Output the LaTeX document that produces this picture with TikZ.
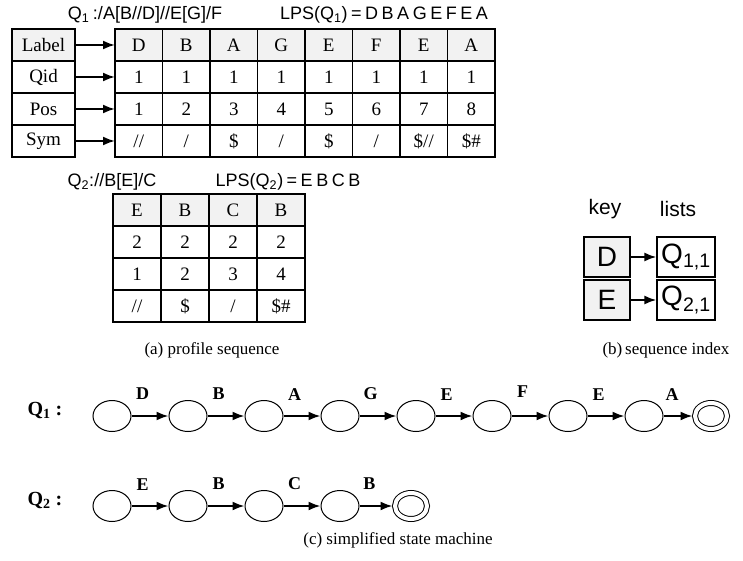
\documentclass[tikz,border=0pt]{standalone}
\usepackage{fontspec}
\setmainfont{Liberation Serif}
\newfontfamily\titlefont[WordSpace=0.7]{Liberation Sans}
\usetikzlibrary{shapes.geometric,arrows.meta,positioning}
\definecolor{headgray}{gray}{0.95}
\tikzset{>={Latex[length=12pt,width=9pt]}, node distance=0pt}
\tikzstyle{cell} = [draw, line width=1.5pt, rectangle, minimum width=47.5pt, minimum height=32pt, inner sep=0pt, outer sep=0pt, font=\fontsize{19}{19}\selectfont]
\tikzstyle{head} = [cell, fill=headgray]
\tikzstyle{field} = [cell, minimum width=63pt]
\tikzstyle{qcell} = [cell, minimum width=48pt]
\tikzstyle{qhead} = [qcell, fill=headgray]
\tikzstyle{title} = [font=\titlefont\fontsize{18}{18}\selectfont, inner sep=0pt]
\tikzstyle{keybox} = [draw, line width=1.2pt, fill=headgray, minimum width=46pt, minimum height=40pt, inner sep=0pt, font=\titlefont\fontsize{28}{28}\selectfont]
\tikzstyle{listbox} = [keybox, fill=white, minimum width=58pt]
\tikzstyle{state} = [draw, ellipse, line width=1pt, minimum width=38pt, minimum height=31pt, inner sep=0pt]
\tikzstyle{final} = [state, double, double distance=4pt, minimum width=32pt, minimum height=26pt, outer sep=2.5pt]
\tikzstyle{link} = [->, line width=2pt]
\tikzstyle{sym} = [font=\bfseries\fontsize{18}{18}\selectfont, above=13pt, pos=0.3, inner sep=2pt]
\tikzstyle{caption} = [font=\fontsize{17}{17}\selectfont]
\tikzstyle{qname} = [font=\bfseries\fontsize{20}{20}\selectfont]

\begin{document}
\begin{tikzpicture}[x=1pt, y=-1pt]
	\useasboundingbox (0,0) rectangle (743,561);

	% (a) profile sequence of Q1
	\node [title] (q1_path) at (145,15) {Q\textsubscript{1} :/A[B//D]//E[G]/F};
	\node [title] (q1_lps) at (384,15) {LPS(Q\textsubscript{1}) = D B A G E F E A};

	\node [field, fill=headgray] (f_label) at (43.5,45) {Label};
	\node [field, below=of f_label] (f_qid) {Qid};
	\node [field, below=of f_qid] (f_pos) {Pos};
	\node [field, below=of f_pos] (f_sym) {Sym};

	\node [head, right=40pt of f_label] (lbl1) {D};
	\node [head, right=of lbl1] (lbl2) {B};
	\node [head, right=of lbl2] (lbl3) {A};
	\node [head, right=of lbl3] (lbl4) {G};
	\node [head, right=of lbl4] (lbl5) {E};
	\node [head, right=of lbl5] (lbl6) {F};
	\node [head, right=of lbl6] (lbl7) {E};
	\node [head, right=of lbl7] (lbl8) {A};

	\node [cell, below=of lbl1] (qid1) {1};
	\node [cell, right=of qid1] (qid2) {1};
	\node [cell, right=of qid2] (qid3) {1};
	\node [cell, right=of qid3] (qid4) {1};
	\node [cell, right=of qid4] (qid5) {1};
	\node [cell, right=of qid5] (qid6) {1};
	\node [cell, right=of qid6] (qid7) {1};
	\node [cell, right=of qid7] (qid8) {1};

	\node [cell, below=of qid1] (pos1) {1};
	\node [cell, right=of pos1] (pos2) {2};
	\node [cell, right=of pos2] (pos3) {3};
	\node [cell, right=of pos3] (pos4) {4};
	\node [cell, right=of pos4] (pos5) {5};
	\node [cell, right=of pos5] (pos6) {6};
	\node [cell, right=of pos6] (pos7) {7};
	\node [cell, right=of pos7] (pos8) {8};

	\node [cell, below=of pos1] (sym1) {//};
	\node [cell, right=of sym1] (sym2) {/};
	\node [cell, right=of sym2] (sym3) {\$};
	\node [cell, right=of sym3] (sym4) {/};
	\node [cell, right=of sym4] (sym5) {\$};
	\node [cell, right=of sym5] (sym6) {/};
	\node [cell, right=of sym6] (sym7) {\$//};
	\node [cell, right=of sym7] (sym8) {\$\#};

	\draw [link] (f_label) -- (lbl1);
	\draw [link] (f_qid) -- (qid1);
	\draw [link] (f_pos) -- (pos1);
	\draw [link] (f_sym) -- (sym1);

	% profile sequence of Q2
	\node [title] (q2_path) at (112,182) {Q\textsubscript{2}://B[E]/C};
	\node [title] (q2_lps) at (288,182) {LPS(Q\textsubscript{2}) = E B C B};

	\node [qhead] at (137,210) (q2lbl1) {E};
	\node [qhead, right=of q2lbl1] (q2lbl2) {B};
	\node [qhead, right=of q2lbl2] (q2lbl3) {C};
	\node [qhead, right=of q2lbl3] (q2lbl4) {B};

	\node [qcell, below=of q2lbl1] (q2qid1) {2};
	\node [qcell, right=of q2qid1] (q2qid2) {2};
	\node [qcell, right=of q2qid2] (q2qid3) {2};
	\node [qcell, right=of q2qid3] (q2qid4) {2};

	\node [qcell, below=of q2qid1] (q2pos1) {1};
	\node [qcell, right=of q2pos1] (q2pos2) {2};
	\node [qcell, right=of q2pos2] (q2pos3) {3};
	\node [qcell, right=of q2pos3] (q2pos4) {4};

	\node [qcell, below=of q2pos1] (q2sym1) {//};
	\node [qcell, right=of q2sym1] (q2sym2) {\$};
	\node [qcell, right=of q2sym2] (q2sym3) {/};
	\node [qcell, right=of q2sym3] (q2sym4) {\$\#};

	\node [caption] (cap_a) at (212,350) {(a) profile sequence};

	% (b) sequence index
	\node [title, font=\titlefont\fontsize{21}{21}\selectfont] (key_head) at (605,209) {key};
	\node [title, font=\titlefont\fontsize{21}{21}\selectfont] (list_head) at (678,209) {lists};
	\node [keybox] at (607,257) (key_d) {D};
	\node [listbox] at (686,257) (list_d) {Q\textsubscript{1,1}};
	\node [keybox] at (607,300) (key_e) {E};
	\node [listbox] at (686,300) (list_e) {Q\textsubscript{2,1}};
	\draw [link] (key_d) -- (list_d);
	\draw [link] (key_e) -- (list_e);

	\node [caption] (cap_b) at (666,350) {(b)\,sequence index};

	% (c) simplified state machine
	\node [qname] (q1_name) at (45,410) {Q\textsubscript{1} :};
	\node [state] at (112,416) (s1_1) {};
	\node [state, right=37pt of s1_1] (s1_2) {};
	\node [state, right=37pt of s1_2] (s1_3) {};
	\node [state, right=37pt of s1_3] (s1_4) {};
	\node [state, right=37pt of s1_4] (s1_5) {};
	\node [state, right=37pt of s1_5] (s1_6) {};
	\node [state, right=37pt of s1_6] (s1_7) {};
	\node [state, right=37pt of s1_7] (s1_8) {};
	\node [final] at (711,416) (s1_9) {};

	\draw [link] (s1_1) -- node[sym] {D} (s1_2);
	\draw [link] (s1_2) -- node[sym] {B} (s1_3);
	\draw [link] (s1_3) -- node[sym] {A} (s1_4);
	\draw [link] (s1_4) -- node[sym] {G} (s1_5);
	\draw [link] (s1_5) -- node[sym] {E} (s1_6);
	\draw [link] (s1_6) -- node[sym, above=16pt] {F} (s1_7);
	\draw [link] (s1_7) -- node[sym] {E} (s1_8);
	\draw [link] (s1_8) -- node[sym] {A} (s1_9);

	\node [qname] (q2_name) at (45,500) {Q\textsubscript{2} :};
	\node [state] at (112,506) (s2_1) {};
	\node [state, right=37pt of s2_1] (s2_2) {};
	\node [state, right=37pt of s2_2] (s2_3) {};
	\node [state, right=37pt of s2_3] (s2_4) {};
	\node [final] at (411,506) (s2_5) {};

	\draw [link] (s2_1) -- node[sym] {E} (s2_2);
	\draw [link] (s2_2) -- node[sym] {B} (s2_3);
	\draw [link] (s2_3) -- node[sym] {C} (s2_4);
	\draw [link] (s2_4) -- node[sym] {B} (s2_5);

	\node [caption] (cap_c) at (398,540) {(c) simplified state machine};
\end{tikzpicture}
\end{document}
